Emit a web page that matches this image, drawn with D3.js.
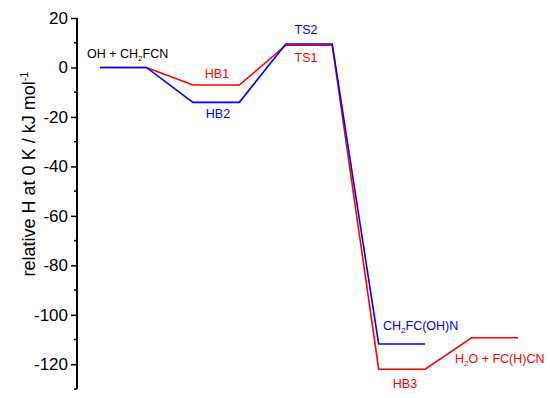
<!DOCTYPE html>
<html>
<head>
<meta charset="utf-8">
<script src="https://cdn.jsdelivr.net/npm/d3@7"></script>
<style>
  body { margin: 0; background: #fff; }
  svg { font-family: "Liberation Sans", Arial, sans-serif; }
</style>
</head>
<body>
<div id="chart"></div>
<script>
// reaction coordinate slots (each level = 2 slots)
const redX = [0, 1, 2, 3, 4, 5, 6, 7, 8, 9]
const redH = [0, 0, -7.1, -7.1, 9.0, 9.0, -122, -122, -109.3, -109.3]
const blueX = [0, 1, 2, 3, 4, 5, 6, 7]
const blueH = [0, 0, -14.1, -14.1, 9.5, 9.5, -111.8, -111.8]
const yTicks = [20, 0, -20, -40, -60, -80, -100, -120]

const width = 550, height = 398

const svg = d3.select("#chart")
    .append("svg")
    .attr("width", width)
    .attr("height", height)

const x = d3.scaleLinear().domain([0, 9]).range([100, 518])
const y = d3.scaleLinear().domain([20, -130]).range([18, 389])

// Axe Y
const yAxis = svg.append("g")
    .attr("transform", "translate(77,0)")
    .call(d3.axisLeft(y).tickValues(yTicks).tickSize(6).tickPadding(3).tickFormat(d => String(d)))
yAxis.select(".domain").attr("d", "M0," + y(20) + "V" + y(-130)).attr("stroke-width", 2)
yAxis.selectAll(".tick line").attr("stroke-width", 1.5)
yAxis.selectAll(".tick text").attr("font-size", 17).attr("fill", "#000")

// minor ticks
svg.append("g")
    .selectAll("line")
    .data(d3.range(10, -140, -20))
    .join("line")
    .attr("x1", 74).attr("x2", 77)
    .attr("y1", d => y(d)).attr("y2", d => y(d))
    .attr("stroke", "#000").attr("stroke-width", 1.5)

// titre axe Y
svg.append("text")
    .attr("transform", "translate(35,174) rotate(-90)")
    .attr("text-anchor", "middle")
    .attr("font-size", 18)
    .html('relative H at 0 K / kJ mol<tspan dy="-7" font-size="11">-1</tspan>')

const line = d3.line().x(d => x(d[0])).y(d => y(d[1]))

svg.append("path")
    .datum(d3.zip(redX, redH))
    .attr("d", line)
    .attr("fill", "none")
    .attr("stroke", "#ff0000")
    .attr("stroke-width", 1.6)

svg.append("path")
    .datum(d3.zip(blueX, blueH))
    .attr("d", line)
    .attr("fill", "none")
    .attr("stroke", "#0000ff")
    .attr("stroke-width", 1.6)

// étiquettes
function label(txt, xp, yp, color, anchor) {
    svg.append("text")
        .attr("x", xp).attr("y", yp)
        .attr("fill", color)
        .attr("font-size", 12.5)
        .attr("text-anchor", anchor || "middle")
        .html(txt)
}
const sub = s => '<tspan dy="3" font-size="8">' + s + '</tspan><tspan dy="-3">'
label('OH + CH' + sub('2') + 'FCN</tspan>', 87, 58, "#000", "start")
label("HB1", 217, 78, "#ff0000")
label("HB2", 218, 118, "#0000ff")
label("TS2", 306, 34, "#0000ff")
label("TS1", 306, 62, "#ff0000")
label('CH' + sub('2') + 'FC(OH)N</tspan>', 383, 330, "#0000ff", "start")
label("HB3", 405, 388, "#ff0000")
label('H' + sub('2') + 'O + FC(H)CN</tspan>', 455, 363, "#ff0000", "start")
</script>
</body>
</html>
